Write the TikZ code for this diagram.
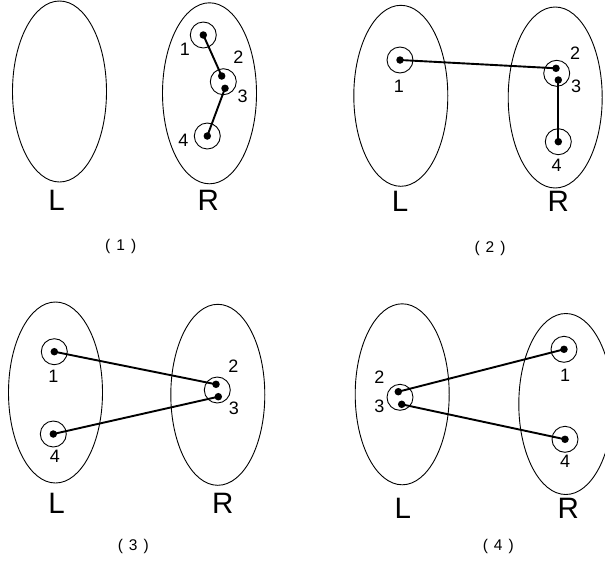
\documentclass[tikz,border=0pt]{standalone}
\usepackage{fontspec}
\setmainfont{Liberation Sans}
\usetikzlibrary{shapes.geometric}
\tikzset{
  setellipse/.style={draw, ellipse, line width=0.9pt, minimum width=94pt, minimum height=181pt, inner sep=0pt},
  ring/.style={draw, circle, line width=0.9pt, minimum size=26pt, inner sep=0pt},
  dotnode/.style={fill, circle, minimum size=7.5pt, inner sep=0pt},
  conn/.style={line width=1.9pt},
  numtxt/.style={font=\fontsize{18}{18}\selectfont, inner sep=0pt},
  bigtxt/.style={font=\fontsize{29.5}{29.5}\selectfont, inner sep=0pt},
  captxt/.style={font=\fontsize{15.5}{15.5}\selectfont, inner sep=0pt}
}
\newcommand{\capt}[1]{(\hspace{6pt}#1\hspace{6pt})}
\begin{document}
\begin{tikzpicture}[x=1pt,y=-1pt]
\useasboundingbox (0,0) rectangle (605,568);
% ---------- panel 1 ----------
\node[setellipse] (p1L) at (59.5,91.5) {};
\node[setellipse] (p1R) at (209.5,93.3) {};
\node[ring] (p1c1) at (203.3,35) {};
\node[ring] (p1c23) at (223.3,81.7) {};
\node[ring] (p1c4) at (207.3,136) {};
\node[dotnode] (p1d1) at (203.3,35) {};
\node[dotnode] (p1d2) at (221.7,76) {};
\node[dotnode] (p1d3) at (225,88.3) {};
\node[dotnode] (p1d4) at (207.3,136) {};
\draw[conn] (p1d1.center) -- (p1d2.center);
\draw[conn] (p1d3.center) -- (p1d4.center);
\node[numtxt] (p1n1) at (185,49) {1};
\node[numtxt] (p1n2) at (238.3,57.3) {2};
\node[numtxt] (p1n3) at (242.7,96.7) {3};
\node[numtxt] (p1n4) at (183.3,140) {4};
\node[bigtxt] (p1tL) at (56.7,200) {L};
\node[bigtxt] (p1tR) at (208.3,200) {R};
\node[captxt] (p1cap) at (120.7,246) {\capt{1}};
% ---------- panel 2 ----------
\node[setellipse] (p2L) at (400.8,95.8) {};
\node[setellipse] (p2R) at (555.2,97.5) {};
\node[ring] (p2c1) at (400,60) {};
\node[ring] (p2c23) at (556.7,73.3) {};
\node[ring] (p2c4) at (558.3,141.7) {};
\node[dotnode] (p2d1) at (400,60) {};
\node[dotnode] (p2d2) at (556,68.3) {};
\node[dotnode] (p2d3) at (558.3,80) {};
\node[dotnode] (p2d4) at (558.3,141.7) {};
\draw[conn] (p2d1.center) -- (p2d2.center);
\draw[conn] (p2d3.center) -- (p2d4.center);
\node[numtxt] (p2n1) at (399,86) {1};
\node[numtxt] (p2n2) at (575,53.3) {2};
\node[numtxt] (p2n3) at (576,86.7) {3};
\node[numtxt] (p2n4) at (556.7,165) {4};
\node[bigtxt] (p2tL) at (400,201.7) {L};
\node[bigtxt] (p2tR) at (558.3,201.7) {R};
\node[captxt] (p2cap) at (490,248.3) {\capt{2}};
% ---------- panel 3 ----------
\node[setellipse] (p3L) at (55.5,392.5) {};
\node[setellipse] (p3R) at (217.8,394.8) {};
\node[ring] (p3c1) at (54.3,351.7) {};
\node[ring] (p3c4) at (53.3,434) {};
\node[ring] (p3c23) at (217.3,390) {};
\node[dotnode] (p3d1) at (54.3,351.7) {};
\node[dotnode] (p3d4) at (53.3,434) {};
\node[dotnode] (p3d2) at (216,384.3) {};
\node[dotnode] (p3d3) at (218.3,396.7) {};
\draw[conn] (p3d1.center) -- (p3d2.center);
\draw[conn] (p3d4.center) -- (p3d3.center);
\node[numtxt] (p3n1) at (53.3,376) {1};
\node[numtxt] (p3n4) at (55,456.7) {4};
\node[numtxt] (p3n2) at (233.3,366) {2};
\node[numtxt] (p3n3) at (234,408.3) {3};
\node[bigtxt] (p3tL) at (56.7,503.3) {L};
\node[bigtxt] (p3tR) at (222.7,503.3) {R};
\node[captxt] (p3cap) at (133.3,546.7) {\capt{3}};
% ---------- panel 4 ----------
\node[setellipse] (p4L) at (402.2,394.3) {};
\node[setellipse] (p4R) at (565.8,404) {};
\node[ring] (p4c23) at (400,397.3) {};
\node[ring] (p4c1) at (564,349.3) {};
\node[ring] (p4c4) at (565,439.3) {};
\node[dotnode] (p4d2) at (398.3,391.7) {};
\node[dotnode] (p4d3) at (401.7,404.3) {};
\node[dotnode] (p4d1) at (564,349.3) {};
\node[dotnode] (p4d4) at (565,439.3) {};
\draw[conn] (p4d2.center) -- (p4d1.center);
\draw[conn] (p4d3.center) -- (p4d4.center);
\node[numtxt] (p4n2) at (379.3,377.3) {2};
\node[numtxt] (p4n3) at (379.3,406.7) {3};
\node[numtxt] (p4n1) at (565,375) {1};
\node[numtxt] (p4n4) at (565,461.7) {4};
\node[bigtxt] (p4tL) at (402.7,508.3) {L};
\node[bigtxt] (p4tR) at (568.3,508.3) {R};
\node[captxt] (p4cap) at (498.3,546.7) {\capt{4}};
\end{tikzpicture}
\end{document}
